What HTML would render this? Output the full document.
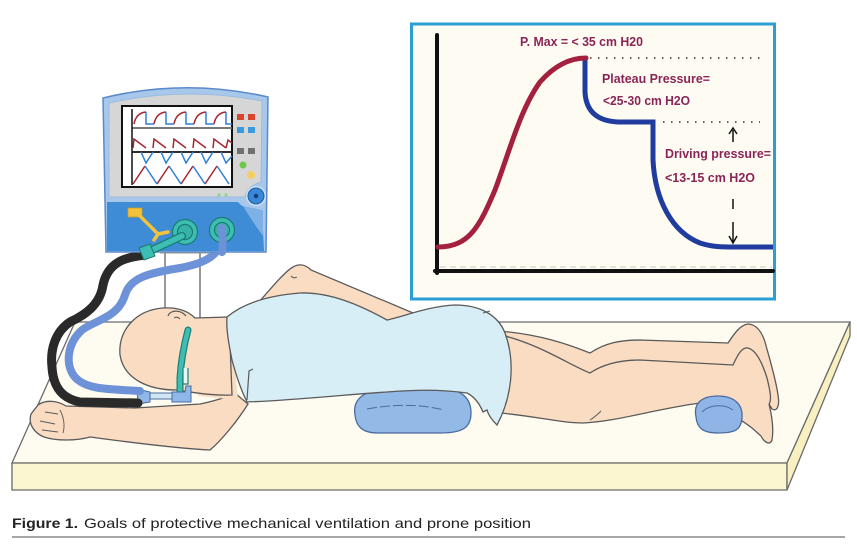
<!DOCTYPE html>
<html><head><meta charset="utf-8"><style>
html,body{margin:0;padding:0;background:#fff;}
svg{display:block;}
</style></head><body>
<svg width="857" height="558" viewBox="0 0 857 558" xmlns="http://www.w3.org/2000/svg">
<rect width="857" height="558" fill="#fff"/>

<!-- BED -->
<polygon points="12,463 75,322 850,322 787,463" fill="#fefcf1" stroke="#6a6a6a" stroke-width="1.3"/>
<polygon points="12,463 787,463 787,490 12,490" fill="#fbf5d0" stroke="#6a6a6a" stroke-width="1.3"/>
<polygon points="787,463 850,322 850,336 787,490" fill="#f8f0c0" stroke="#6a6a6a" stroke-width="1.3"/>

<!-- raised skin behind gown -->
<path d="M252,310 C268,292 284,272 293,267 C300,263 306,265 311,270 L425,318 L420,340 L252,340 Z" fill="#f9dcc2" stroke="#5a5a5a" stroke-width="1.3"/>
<path d="M291,276 Q294,279 297,277" fill="none" stroke="#5a5a5a" stroke-width="1"/>

<!-- chest pillow -->
<path d="M355,415 C352,398 366,389 392,388 L440,388 C464,389 471,400 471,413 C471,428 462,433 440,433 L378,433 C362,433 356,426 355,415 Z" fill="#93b9e6" stroke="#4a6a9e" stroke-width="1.3"/>
<path d="M367,409 C395,404 420,404 444,410" fill="none" stroke="#4a6a9e" stroke-width="1" stroke-dasharray="10 3"/>

<!-- LEGS -->
<path d="M498,331 C540,334 570,345 590,353 C605,343 620,340 640,340 L728,343 C734,334 740,325 748,324 C756,324 762,332 765,342 C770,360 776,380 778,395 C780,406 777,412 772,409 L769,404 C772,416 774,428 772,440 C770,446 764,442 761,436 L752,428 C735,415 715,405 700,403 C650,410 620,421 583,423 C560,423 535,416 500,413 Z" fill="#f9dcc2" stroke="#5a5a5a" stroke-width="1.3"/>
<path d="M505,336 C540,345 570,365 590,373 C605,363 622,360 640,360 L733,365 C738,354 742,347 748,348 C756,350 762,362 767,378 C770,390 772,400 769,404" fill="none" stroke="#5a5a5a" stroke-width="1.3"/>
<path d="M590,420 C595,417 598,414 601,411" fill="none" stroke="#5a5a5a" stroke-width="1"/>

<!-- ankle pillow -->
<path d="M696,417 C693,402 703,396 718,396 C735,396 743,405 742,418 C741,430 735,433 718,433 C703,433 697,428 696,417 Z" fill="#8fb5e6" stroke="#4a6a9e" stroke-width="1.3"/>
<path d="M702,412 C710,404 725,404 733,410" fill="none" stroke="#4a6a9e" stroke-width="1"/>

<!-- ARM -->
<path d="M38,405 C46,399 58,401 66,406 L135,408 L200,404 C215,401 226,397 236,394 L248,404 C238,420 222,440 210,450 C170,448 120,441 90,437 C76,441 56,441 44,437 C34,433 28,424 31,414 Z" fill="#f9dcc2" stroke="#5a5a5a" stroke-width="1.3"/>
<path d="M45,412 L58,414 M40,421 L55,424 M42,430 L58,432 M60,410 C64,418 65,426 63,433" fill="none" stroke="#5a5a5a" stroke-width="0.9"/>

<!-- poles -->
<line x1="165" y1="252" x2="165" y2="316" stroke="#555" stroke-width="1.2"/>
<line x1="200" y1="252" x2="200" y2="322" stroke="#555" stroke-width="1.2"/>

<!-- shoulder skin -->
<path d="M192,318 L230,316 L238,400 L198,396 Z" fill="#f9dcc2" stroke="none"/>
<!-- HEAD -->
<path d="M120,355 C118,330 136,310 163,308 C178,307 188,311 195,318 L229,317 L232,395 C212,396 192,392 176,390 C150,390 124,380 120,355 Z" fill="#f9dcc2" stroke="#5a5a5a" stroke-width="1.3"/>
<path d="M168,316 C170,310 180,309 186,316" fill="none" stroke="#5a5a5a" stroke-width="1.2"/>
<path d="M174,318 Q177,316 180,319" fill="none" stroke="#5a5a5a" stroke-width="1"/>

<!-- GOWN -->
<path d="M227,317 C240,306 262,296 300,293 C330,292 360,305 387,320 C405,316 430,306 455,305 C480,305 498,315 505,333 C515,360 513,395 497,425 C492,420 488,414 487,410 L483,412 C478,400 471,395 467,393 C440,389 410,390 387,392 C350,394 300,400 247,402 C241,390 236,375 232,360 C229,345 226,330 227,317 Z" fill="#d7eef7" stroke="#5a5a5a" stroke-width="1.3"/>
<path d="M253,369 L249,371 L247,400" fill="none" stroke="#5a5a5a" stroke-width="1.2"/>
<path d="M483,313 L490,311" fill="none" stroke="#5a5a5a" stroke-width="1"/>

<!-- ET tube holder -->
<path d="M188,330 C184,345 181,360 180,378 L180,392" fill="none" stroke="#1f7f78" stroke-width="7" stroke-linecap="round"/>
<path d="M188,330 C184,345 181,360 180,378 L180,392" fill="none" stroke="#3cbfb2" stroke-width="4.5" stroke-linecap="round"/>
<path d="M183,368 L183,384 L188,384 L188,368" fill="#e8f6f6" stroke="#1f7f78" stroke-width="1.2"/>
<polygon points="137,389 150,392 150,402 138,404" fill="#8fb8e8" stroke="#4a6a9e" stroke-width="1"/>
<rect x="150" y="393" width="24" height="6" fill="#cfe7f5" stroke="#4a6a9e" stroke-width="1"/>
<path d="M172,392 L185,392 L186,386 L191,386 L191,402 L172,402 Z" fill="#8fb8e8" stroke="#4a6a9e" stroke-width="1"/>

<!-- TUBES -->
<path d="M222,228 C223,252 212,262 180,268 C148,273 130,278 125,295 C118,318 95,320 82,330 C65,345 65,370 78,380 C88,388 100,389 140,391" fill="none" stroke="#6d92d8" stroke-width="8" stroke-linecap="round"/>
<path d="M146,255 C125,257 108,262 103,285 C100,305 85,315 70,322 C55,332 50,350 52,367 C53,385 60,398 80,402 L138,403" fill="none" stroke="#2a2a2a" stroke-width="9" stroke-linecap="round"/>

<!-- VENTILATOR -->
<path d="M103,98 Q185,78 268,97 L266,252 L106,252 Z" fill="#a7c7eb" stroke="#5a8acb" stroke-width="1.5"/>
<path d="M109,103 Q185,86 262,101 L261,182 Q247,186 245,197 L109,197 Z" fill="#d6d6d6" stroke="#9cbbe0" stroke-width="1"/>
<path d="M107,202 L238,202 Q244,210 262,210 L264,251 L107,251 Z" fill="#3e8cd6"/>
<path d="M243,206 Q254,224 263,236 L263,210 Z" fill="#7fb0e6"/>
<!-- screen -->
<rect x="122" y="106" width="110" height="81" fill="#fff" stroke="#111" stroke-width="2"/>
<line x1="132" y1="128" x2="232" y2="128" stroke="#666" stroke-width="1.8"/>
<line x1="132" y1="152" x2="232" y2="152" stroke="#111" stroke-width="1.8"/>
<line x1="132" y1="109" x2="132" y2="185" stroke="#111" stroke-width="1.5"/>
<g fill="none" stroke-width="1.5">
<path d="M134,124 Q136,113 146,112 M154,124 Q156,113 166,112 M174,124 Q176,113 186,112 M194,124 Q196,113 206,112 M214,124 Q216,113 226,112" stroke="#a8262e"/>
<path d="M146,112 L146,124 L154,124 M166,112 L166,124 L174,124 M186,112 L186,124 L194,124 M206,112 L206,124 L214,124 M226,112 L226,124 L232,124" stroke="#2f7fd6"/>
<path d="M133,148 L134,139 L146,148 M153,148 L154,139 L166,148 M173,148 L174,139 L186,148 M193,148 L194,139 L206,148 M213,148 L214,139 L226,148 M226,148 L228,140 L232,143" stroke="#a8262e"/>
<path d="M141,152 L146,163 L153,152 M161,152 L166,163 L173,152 M181,152 L186,163 L193,152 M201,152 L206,163 L213,152 M221,152 L226,163 L232,156" stroke="#2f7fd6"/>
<path d="M133,184 L145,166 M157,184 L169,166 M181,184 L193,166 M205,184 L217,166" stroke="#a8262e"/>
<path d="M145,166 L157,184 M169,166 L181,184 M193,166 L205,184 M217,166 L229,184" stroke="#2f7fd6"/>
</g>
<!-- buttons -->
<rect x="237" y="114" width="7" height="6" fill="#d9452b"/>
<rect x="248" y="114" width="7" height="6" fill="#d9452b"/>
<rect x="237" y="127" width="7" height="6" fill="#3a9ae0"/>
<rect x="248" y="127" width="7" height="6" fill="#3a9ae0"/>
<rect x="237" y="148" width="7" height="6" fill="#707070"/>
<rect x="248" y="148" width="7" height="6" fill="#707070"/>
<circle cx="243" cy="165" r="3.5" fill="#6cc84a"/>
<circle cx="251" cy="175" r="4" fill="#f5d060"/>
<circle cx="219" cy="195" r="1.6" fill="#8fd48a"/>
<circle cx="226" cy="195" r="1.6" fill="#8fd48a"/>
<circle cx="256" cy="196" r="10" fill="#cfe2f5"/>
<circle cx="256" cy="196" r="8" fill="#3a87d6" stroke="#1d5fa8" stroke-width="1"/>
<circle cx="256" cy="196" r="2.2" fill="#0d3c80"/>
<!-- yellow bracket -->
<rect x="128" y="208" width="14" height="9" fill="#f2c23c" stroke="#c99a20" stroke-width="0.8"/>
<path d="M138,214 L158,234 M158,234 L154,240 M158,234 L168,232" fill="none" stroke="#f2c23c" stroke-width="3.5" stroke-linecap="round"/>
<!-- teal ports -->
<circle cx="222" cy="230" r="12.5" fill="#3cbfb2" stroke="#1b7b72" stroke-width="1.2"/>
<circle cx="222" cy="230" r="7.5" fill="#36b3a6" stroke="#1b7b72" stroke-width="1.2"/>
<circle cx="185" cy="232" r="12.5" fill="#3cbfb2" stroke="#1b7b72" stroke-width="1.2"/>
<circle cx="185" cy="232" r="7.5" fill="#36b3a6" stroke="#1b7b72" stroke-width="1.2"/>
<path d="M222,228 C223,240 223,246 222,252" fill="none" stroke="#6d92d8" stroke-width="8" stroke-linecap="round"/>
<path d="M182,236 L148,252" stroke="#1b7b72" stroke-width="8" stroke-linecap="round"/>
<path d="M182,236 L148,252" stroke="#3cbfb2" stroke-width="5.5" stroke-linecap="round"/>
<path d="M139,248 L150,244 L155,256 L144,260 Z" fill="#3cbfb2" stroke="#1b7b72" stroke-width="1"/>
<line x1="160" y1="253" x2="210" y2="253" stroke="#999" stroke-width="1"/>

<!-- CHART -->
<rect x="411.5" y="24" width="363" height="275" fill="#fdfbf2" stroke="#2b9fd4" stroke-width="3"/>
<line x1="440" y1="267" x2="772" y2="267" stroke="#ccc" stroke-width="1" stroke-dasharray="6 4"/>
<line x1="437" y1="35" x2="437" y2="273" stroke="#111" stroke-width="4" stroke-linecap="round"/>
<line x1="435" y1="271" x2="773" y2="271" stroke="#111" stroke-width="4" stroke-linecap="round"/>
<line x1="590" y1="58" x2="760" y2="58" stroke="#333" stroke-width="1.6" stroke-dasharray="1.5 6.5"/>
<line x1="663" y1="122" x2="760" y2="122" stroke="#333" stroke-width="1.6" stroke-dasharray="1.5 6.5"/>
<path d="M585,58 L585,92 C586,112 598,121 618,122 L653,122 L653,160 C655,200 672,232 700,243 C712,247 722,247 735,247 L773,247" fill="none" stroke="#1f3c9e" stroke-width="5"/>
<path d="M438,247 C470,247 480,225 495,190 C510,150 520,110 540,82 C555,65 570,58 586,58" fill="none" stroke="#a3213e" stroke-width="5" stroke-linecap="round"/>
<!-- arrows -->
<line x1="733" y1="130" x2="733" y2="142" stroke="#111" stroke-width="1.5"/>
<path d="M729,134 L733,128 L737,134" fill="none" stroke="#111" stroke-width="1.5"/>
<line x1="733" y1="199" x2="733" y2="209" stroke="#111" stroke-width="1.5"/>
<line x1="733" y1="222" x2="733" y2="242" stroke="#111" stroke-width="1.5"/>
<path d="M729,236 L733,243 L737,236" fill="none" stroke="#111" stroke-width="1.5"/>
<g font-family="'Liberation Sans', Arial, sans-serif" font-weight="bold" font-size="13" fill="#8b2456">
<text x="520" y="46" textLength="123" lengthAdjust="spacingAndGlyphs">P. Max = &lt; 35 cm H20</text>
<text x="602" y="83" textLength="108" lengthAdjust="spacingAndGlyphs">Plateau Pressure=</text>
<text x="603" y="105" textLength="87" lengthAdjust="spacingAndGlyphs">&lt;25-30 cm H2O</text>
<text x="665" y="158" textLength="106" lengthAdjust="spacingAndGlyphs">Driving pressure=</text>
<text x="665" y="182" textLength="90" lengthAdjust="spacingAndGlyphs">&lt;13-15 cm H2O</text>
</g>

<!-- CAPTION -->
<g font-family="'Liberation Sans', Arial, sans-serif" font-size="14" fill="#222">
<text x="12" y="528" font-weight="bold" textLength="66" lengthAdjust="spacingAndGlyphs">Figure 1.</text>
<text x="84" y="528" textLength="447" lengthAdjust="spacingAndGlyphs">Goals of protective mechanical ventilation and prone position</text>
</g>
<line x1="12" y1="537" x2="845" y2="537" stroke="#8a8a8a" stroke-width="1.5"/>
</svg>
</body></html>
